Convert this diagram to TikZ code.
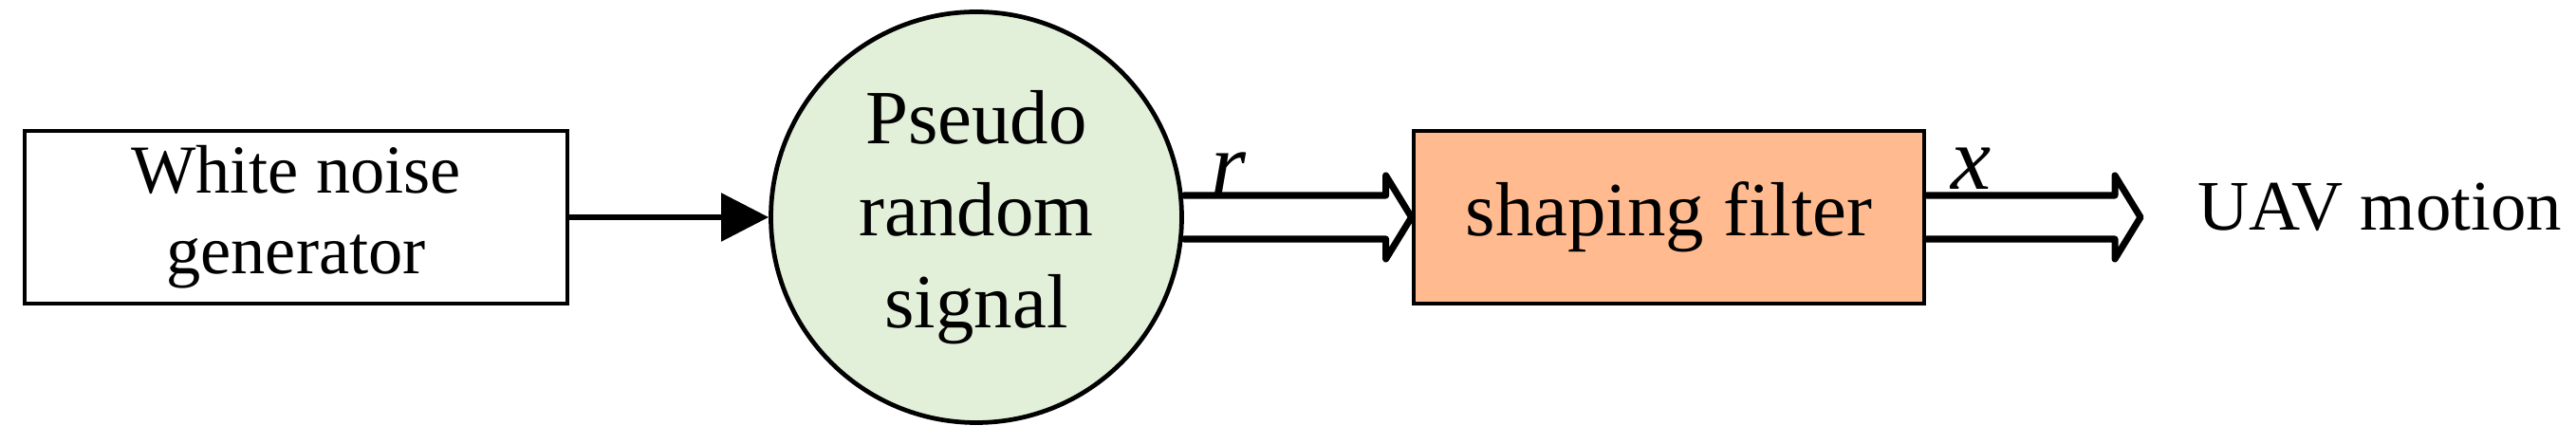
\documentclass[tikz,border=0pt]{standalone}
\usepackage{fontspec}
\setmainfont{Liberation Serif}
\usepackage{xcolor}
\usepackage{tikz}
\usetikzlibrary{calc,arrows.meta}

\definecolor{signalgreen}{HTML}{E2EFD9}
\definecolor{filterpeach}{HTML}{FFBB8F}

\tikzset{
  blockbox/.style={draw, line width=1.35pt, minimum width=5.72cm, minimum height=1.82cm, inner sep=0pt, align=center},
  fatline/.style={line width=2pt, line join=round, line cap=round},
}

\newcommand{\fatarrow}[2]{%
\draw[fatline] ($(#1)+(0,0.23)$) -- ($(#2)+(-0.27,0.23)$) -- ($(#2)+(-0.27,0.44)$) -- (#2)
  -- ($(#2)+(-0.27,-0.44)$) -- ($(#2)+(-0.27,-0.23)$) -- ($(#1)+(0,-0.23)$);
}

\begin{document}
\begin{tikzpicture}
\useasboundingbox (0,0) rectangle (27.15,4.68);
\node[blockbox, font=\fontsize{20.6}{24.2}\selectfont] (noise) at (3.12, 2.39) {White noise\\generator};
\node[circle, draw, line width=1.35pt, fill=signalgreen, minimum size=4.33cm, inner sep=0pt, align=center,
  font=\fontsize{23}{27.6}\selectfont] (pseudo) at (10.29, 2.39) {Pseudo\\random\\signal};
\node[blockbox, fill=filterpeach, minimum width=5.38cm, font=\fontsize{23}{26}\selectfont] (filter) at (17.59, 2.39) {shaping filter};
\coordinate (motion end) at (22.56, 2.39);
\node[anchor=base west, inner sep=0pt, font=\fontsize{21.3}{24.2}\selectfont] (motion) at (23.16, 2.25) {UAV motion};

\draw[line width=1.6pt, -{Triangle[length=0.5cm, width=0.5cm]}] (noise.east) -- (pseudo.west);
\fatarrow{pseudo.east}{filter.west}
\fatarrow{filter.east}{motion end}

\node[font=\fontsize{27}{30}\itshape] (r label) at (12.95, 2.85) {r};
\node[font=\fontsize{27}{30}\itshape] (x label) at (20.78, 2.90) {x};
\end{tikzpicture}
\end{document}
